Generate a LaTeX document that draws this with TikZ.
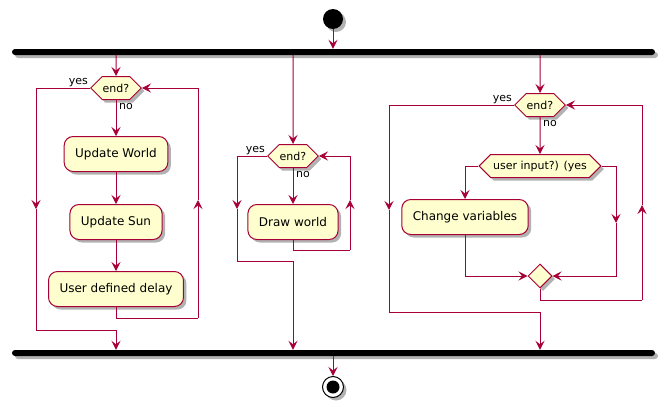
\documentclass[tikz,border=0pt]{standalone}
\usepackage{fontspec}
\setmainfont{DejaVu Sans}
\usetikzlibrary{arrows.meta,shapes.symbols,shapes.geometric,shadows}
\definecolor{umlred}{HTML}{A80036}
\definecolor{umlfill}{HTML}{FEFECE}
\tikzset{
  shade3/.style={drop shadow={shadow xshift=3pt,shadow yshift=-3pt,opacity=0.3,fill=black}},
  wire/.style={draw=umlred,line width=1pt},
  flow/.style={wire,-{Stealth[length=9pt,width=9pt,inset=3.5pt]}},
  act/.style={draw=umlred,fill=umlfill,line width=1pt,rounded corners=9pt,minimum height=35pt,inner xsep=11pt,font=\fontsize{12}{14}\selectfont,shade3},
  dec/.style={signal,signal to=west and east,signal pointer angle=90,draw=umlred,fill=umlfill,line width=1pt,minimum height=23pt,inner xsep=0.5pt,inner ysep=0pt,font=\fontsize{11}{13}\selectfont,shade3},
  merge/.style={diamond,draw=umlred,fill=umlfill,line width=1pt,minimum size=24pt,inner sep=0pt,shade3},
  bar/.style={fill=black,rounded corners=3pt,minimum width=643pt,minimum height=6pt,inner sep=0pt,shade3},
  lbl/.style={font=\fontsize{11}{13}\selectfont,inner sep=1pt}
}

\begin{document}
\begin{tikzpicture}[x=1pt,y=-1pt]
				%%%%% START %%%%%
				\def\xa{116}
				\def\xb{293}
				\def\xc{540}
				\def\ydown{209}
				\def\yup{200}
				\useasboundingbox (0,0) rectangle (667,407);

				\node[circle,fill=black,minimum size=20pt,inner sep=0pt,shade3] (start) at (333,19) {};
				\node[bar] (fork) at (333.5,52) {};
				\draw[flow] (start) -- (start |- fork.north);

				% left branch
				\node[dec] (endA) at (\xa,88) {end?};
				\node[act] (updW) at (\xa,154) {Update World};
				\node[act] (updS) at (\xa,222) {Update Sun};
				\node[act] (delay) at (\xa,289) {User defined delay};
				\node[lbl,anchor=south east] at ([xshift=-1pt,yshift=0.5pt]endA.west) {yes};
				\node[lbl,anchor=north west] at ([xshift=2pt,yshift=-2pt]endA.south) {no};
				\coordinate (yesA) at (36,\ydown);
				\coordinate (joinA) at (\xa,330);
				\coordinate (backA) at (198,318);
				\coordinate (upA) at (198,\yup);
				\draw[flow] (fork.south -| endA) -- (endA);
				\draw[flow] (endA) -- (updW);
				\draw[flow] (updW) -- (updS);
				\draw[flow] (updS) -- (delay);
				\draw[wire] (delay.south) |- (backA);
				\draw[flow] (backA) -- (upA);
				\draw[flow] (upA) |- (endA.east);
				\draw[flow] (endA.west) -| (yesA);
				\draw[wire] (yesA) |- (joinA);

				% middle branch
				\node[dec] (endB) at (\xb,156) {end?};
				\node[act] (drawW) at (\xb,222) {Draw world};
				\node[lbl,anchor=south east] at ([xshift=-1pt,yshift=0.5pt]endB.west) {yes};
				\node[lbl,anchor=north west] at ([xshift=2pt,yshift=-2pt]endB.south) {no};
				\coordinate (yesB) at (237,\ydown);
				\coordinate (joinB) at (\xb,261);
				\coordinate (backB) at (350,250);
				\coordinate (upB) at (350,\yup);
				\draw[flow] (fork.south -| endB) -- (endB);
				\draw[flow] (endB) -- (drawW);
				\draw[wire] (drawW.south) |- (backB);
				\draw[flow] (backB) -- (upB);
				\draw[flow] (upB) |- (endB.east);
				\draw[flow] (endB.west) -| (yesB);
				\draw[wire] (yesB) |- (joinB);

				% right branch
				\node[dec] (endC) at (\xc,105) {end?};
				\node[dec,inner xsep=2.5pt] (inp) at (\xc,166) {user input?) (yes};
				\node[act] (chg) at (465,217) {Change variables};
				\node[merge] (mrg) at (\xc,276) {};
				\node[lbl,anchor=south east] at ([xshift=-1pt,yshift=0.5pt]endC.west) {yes};
				\node[lbl,anchor=north west] at ([xshift=2pt,yshift=-2pt]endC.south) {no};
				\coordinate (yesC) at (389,210);
				\coordinate (joinC) at (\xc,312);
				\coordinate (skipC) at (616,223);
				\coordinate (backC) at (642,300);
				\coordinate (upC) at (642,205);
				\draw[flow] (fork.south -| endC) -- (endC);
				\draw[flow] (endC) -- (inp);
				\draw[flow] (inp.west) -| (chg.north);
				\draw[flow] (inp.east) -| (skipC);
				\draw[flow] (skipC) |- (mrg.east);
				\draw[flow] (chg.south) |- (mrg.west);
				\draw[wire] (mrg.south) |- (backC);
				\draw[flow] (backC) -- (upC);
				\draw[flow] (upC) |- (endC.east);
				\draw[flow] (endC.west) -| (yesC);
				\draw[wire] (yesC) |- (joinC);

				\node[bar] (join) at (333.5,353) {};
				\draw[flow] (joinA) -- (join.north -| joinA);
				\draw[flow] (joinB) -- (join.north -| joinB);
				\draw[flow] (joinC) -- (join.north -| joinC);

				\node[circle,draw=black,fill=white,line width=1pt,minimum size=21pt,inner sep=0pt,shade3,
				  path picture={\fill[black] (path picture bounding box.center) circle (6.5pt);}] (stop) at (333,387) {};
				\draw[flow] (join.south -| stop) -- (stop);
				%%%%% START %%%%%
\end{tikzpicture}
\end{document}
